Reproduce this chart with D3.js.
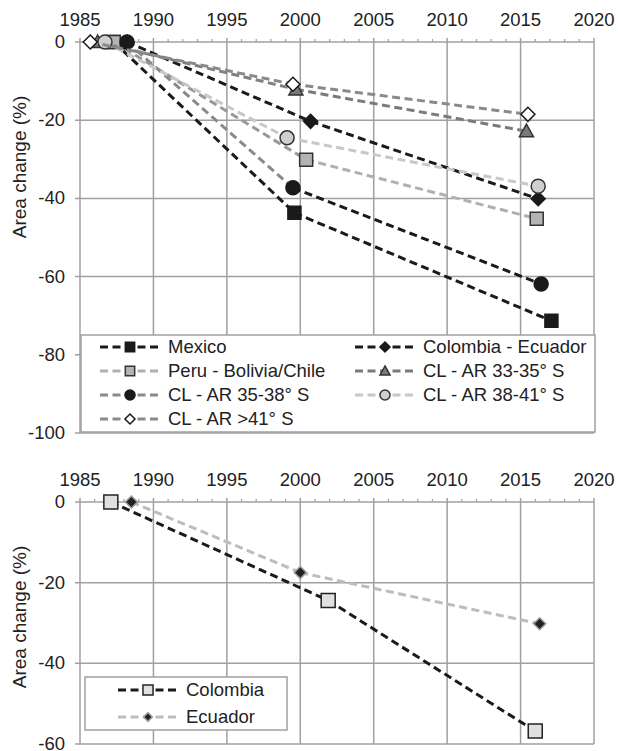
<!DOCTYPE html>
<html>
<head>
<meta charset="utf-8">
<script src="https://cdn.jsdelivr.net/npm/d3@7"></script>
<style>
  body { margin: 0; background: #fff; }
  svg text { font-family: "Liberation Sans", Arial, sans-serif; fill: #222; }
</style>
</head>
<body>
<svg id="chart" width="618" height="751"></svg>
<script>
// x ticks shared by both panels
const yearTicks = [1985, 1990, 1995, 2000, 2005, 2010, 2015, 2020];
const topChangeTicks = [0, -20, -40, -60, -80, -100];
const bottomChangeTicks = [0, -20, -40, -60];

// top panel
const topNames = ["Mexico", "Colombia - Ecuador", "Peru - Bolivia/Chile", "CL - AR 33-35° S",
                  "CL - AR 35-38° S", "CL - AR 38-41° S", "CL - AR >41° S"];
const mexicoYears = [1987.3, 1999.6, 2017.1];
const mexicoChange = [0, -43.7, -71.3];
const colEcYears = [1988.2, 2000.7, 2016.2];
const colEcChange = [0, -20.3, -40.1];
const peruYears = [1987.3, 2000.4, 2016.1];
const peruChange = [0, -30.1, -45.2];
const cl3335Years = [1986.2, 1999.7, 2015.4];
const cl3335Change = [0, -12.1, -22.8];
const cl3538Years = [1988.2, 1999.5, 2016.4];
const cl3538Change = [0, -37.3, -61.9];
const cl3841Years = [1986.7, 1999.1, 2016.2];
const cl3841Change = [0, -24.5, -36.9];
const cl41Years = [1985.7, 1999.5, 2015.5];
const cl41Change = [0, -10.8, -18.5];

// bottom panel
const bottomNames = ["Colombia", "Ecuador"];
const colombiaYears = [1987.1, 2001.9, 2016.0];
const colombiaChange = [0, -24.4, -56.8];
const ecuadorYears = [1988.5, 2000.0, 2016.3];
const ecuadorChange = [0, -17.5, -30.2];

const topSeries = [
  {name: topNames[0], years: mexicoYears, vals: mexicoChange, seg: ['#1a1a1a', '#1a1a1a'], legendLine: '#1a1a1a', shape: 'square', fill: '#1a1a1a', stroke: '#1a1a1a', size: 13},
  {name: topNames[1], years: colEcYears, vals: colEcChange, seg: ['#1a1a1a', '#1a1a1a'], legendLine: '#1a1a1a', shape: 'diamond', fill: '#1a1a1a', stroke: '#1a1a1a', size: 14},
  {name: topNames[2], years: peruYears, vals: peruChange, seg: ['#999', '#b0b0b0'], legendLine: '#b0b0b0', shape: 'square', fill: '#b3b3b3', stroke: '#333', size: 13},
  {name: topNames[3], years: cl3335Years, vals: cl3335Change, seg: ['#808080', '#7a7a7a'], legendLine: '#7a7a7a', shape: 'triangle', fill: '#7a7a7a', stroke: '#333', size: 14},
  {name: topNames[4], years: cl3538Years, vals: cl3538Change, seg: ['#8a8a8a', '#1a1a1a'], legendLine: '#8a8a8a', shape: 'circle', fill: '#1a1a1a', stroke: '#1a1a1a', size: 14},
  {name: topNames[5], years: cl3841Years, vals: cl3841Change, seg: ['#c8c8c8', '#c8c8c8'], legendLine: '#c8c8c8', shape: 'circle', fill: '#cfcfcf', stroke: '#333', size: 14},
  {name: topNames[6], years: cl41Years, vals: cl41Change, seg: ['#8a8a8a', '#8a8a8a'], legendLine: '#8a8a8a', shape: 'diamond', fill: '#fff', stroke: '#1a1a1a', size: 14}
];

const bottomSeries = [
  {name: bottomNames[0], years: colombiaYears, vals: colombiaChange, seg: ['#1a1a1a', '#1a1a1a'], legendLine: '#1a1a1a', shape: 'square', fill: '#e0e0e0', stroke: '#222', size: 14},
  {name: bottomNames[1], years: ecuadorYears, vals: ecuadorChange, seg: ['#bdbdbd', '#bdbdbd'], legendLine: '#bdbdbd', shape: 'diamond', fill: '#222', stroke: '#999', size: 12}
];

const svg = d3.select('#chart');
const gridColor = '#a0a0a0';
const dash = '8,4.5';

function markerPath(shape, s) {
  const h = s / 2;
  if (shape === 'square') return `M${-h},${-h}H${h}V${h}H${-h}Z`;
  if (shape === 'diamond') return `M0,${-h}L${h},0L0,${h}L${-h},0Z`;
  if (shape === 'triangle') return `M0,${-h}L${h},${h * 0.8}L${-h},${h * 0.8}Z`;
  return d3.arc()({innerRadius: 0, outerRadius: h, startAngle: 0, endAngle: 2 * Math.PI});
}

function drawMarker(g, d, x, y) {
  g.append('path')
    .attr('d', markerPath(d.shape, d.size))
    .attr('transform', `translate(${x},${y})`)
    .attr('fill', d.fill)
    .attr('stroke', d.stroke)
    .attr('stroke-width', 1.5);
}

function drawPanel(cfg) {
  const x = d3.scaleLinear().domain([1985, 2020]).range([80, 594]);
  const y = d3.scaleLinear().domain(cfg.yDomain).range(cfg.yRange);
  const g = svg.append('g');

  // grid
  g.selectAll('.vgrid').data(yearTicks).join('line')
    .attr('x1', d => x(d)).attr('x2', d => x(d))
    .attr('y1', y(0) - 4).attr('y2', y(cfg.yDomain[0]))
    .attr('stroke', gridColor).attr('stroke-width', 1.5);
  g.selectAll('.hgrid').data(cfg.yTicks).join('line')
    .attr('x1', x(1985) - 5).attr('x2', x(2020))
    .attr('y1', d => y(d)).attr('y2', d => y(d))
    .attr('stroke', gridColor).attr('stroke-width', 1.5);

  // minor ticks on top axis
  g.selectAll('.minor').data(d3.range(1986, 2020).filter(v => v % 5 !== 0)).join('line')
    .attr('x1', d => x(d)).attr('x2', d => x(d))
    .attr('y1', y(0) - 3).attr('y2', y(0))
    .attr('stroke', gridColor).attr('stroke-width', 1.2);

  // tick labels
  g.selectAll('.xlab').data(yearTicks).join('text')
    .attr('x', d => x(d)).attr('y', y(0) - 16)
    .attr('text-anchor', 'middle')
    .style('font-size', '18.5px')
    .text(d => d);
  g.selectAll('.ylab').data(cfg.yTicks).join('text')
    .attr('x', 65).attr('y', d => y(d) + 6)
    .attr('text-anchor', 'end')
    .style('font-size', '18.5px')
    .text(d => String(d));

  g.append('text')
    .attr('transform', `translate(26,${cfg.labelY}) rotate(-90)`)
    .attr('text-anchor', 'middle')
    .style('font-size', '19px')
    .text('Area change (%)');

  // series
  cfg.series.forEach(s => {
    const pts = s.years.map((yr, i) => [x(yr), y(s.vals[i])]);
    for (let i = 0; i < pts.length - 1; i++) {
      g.append('path')
        .attr('d', d3.line()([pts[i], pts[i + 1]]))
        .attr('fill', 'none')
        .attr('stroke', s.seg[i])
        .attr('stroke-width', 3)
        .attr('stroke-dasharray', dash);
    }
    pts.forEach(p => drawMarker(g, s, p[0], p[1]));
  });

  // legend
  const L = cfg.legend;
  g.append('rect')
    .attr('x', L.x).attr('y', L.y).attr('width', L.w).attr('height', L.h)
    .attr('fill', '#fff').attr('stroke', gridColor).attr('stroke-width', 1.5);
  cfg.series.forEach((s, i) => {
    const col = i % L.cols, row = Math.floor(i / L.cols);
    const lx = L.itemX[col], ly = L.firstY + row * L.step;
    g.append('line')
      .attr('x1', lx).attr('x2', lx + 62).attr('y1', ly).attr('y2', ly)
      .attr('stroke', s.legendLine).attr('stroke-width', 3)
      .attr('stroke-dasharray', dash);
    drawMarker(g, Object.assign({}, s, {size: s.size * 0.72}), lx + 30, ly);
    g.append('text')
      .attr('x', lx + 68).attr('y', ly + 6)
      .style('font-size', '18.5px')
      .text(s.name);
  });
}

drawPanel({
  yDomain: [-100, 0], yRange: [433, 42], yTicks: topChangeTicks, labelY: 167,
  series: topSeries,
  legend: {x: 81, y: 335, w: 514, h: 97, cols: 2, itemX: [100, 355], firstY: 347, step: 24}
});

drawPanel({
  yDomain: [-60, 0], yRange: [744, 502], yTicks: bottomChangeTicks, labelY: 617,
  series: bottomSeries,
  legend: {x: 85, y: 677, w: 202, h: 53, cols: 1, itemX: [118], firstY: 690, step: 27}
});
</script>
</body>
</html>
